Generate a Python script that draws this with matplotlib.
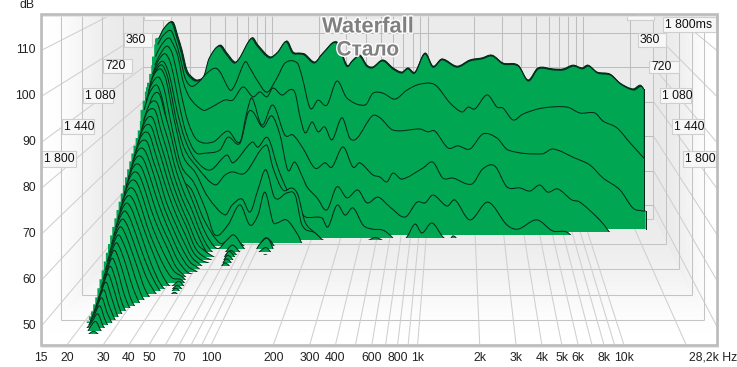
import matplotlib
matplotlib.use("Agg")
import matplotlib.pyplot as plt
import matplotlib.patheffects as pe
from matplotlib.path import Path
from matplotlib.patches import PathPatch, Polygon, Rectangle
import numpy as np

plt.rcParams["font.family"] = ["Liberation Sans", "DejaVu Sans"]

# ---- data: slices of the waterfall, Hz and dB ----
top_times = [0, 12, 24]
top_freq = [19.1, 20.6, 23.2, 25, 26.5, 28.5, 31.2, 33.6, 37.2, 40.1, 46.5, 51.5, 58, 62.5, 74.6, 81.5, 97.3, 109.5,
            125, 137, 152, 163, 189, 213, 262, 304, 332, 368, 408, 446, 517, 600, 685, 748, 830, 962, 1083, 1237,
            1545, 1870, 2235, 2590, 3050, 3805, 4410, 5115, 6380, 7400, 8580, 9795, 10710, 12230, 14820, 17190,
            20800, 23100, 24150]
top_db = [98.5, 101.4, 103.1, 98.8, 95, 89.2, 86.9, 86.3, 87.7, 92.7, 96.4, 94.1, 91.5, 92.7, 98.5, 96.4, 93, 94.4,
          97.6, 94.4, 94.1, 93.8, 91.5, 94.1, 97.3, 90.6, 92.1, 93.5, 90.6, 90.1, 92.1, 89.8, 88.6, 89.8, 88.6, 94.1,
          90.3, 92.4, 90.3, 92.1, 92.7, 93.5, 91.2, 90.6, 86.3, 89.8, 89.5, 89.5, 90.6, 89.8, 90.6, 88.6, 88, 85.4,
          83.7, 84.8, 84]

a_freq = [19.1, 20.6, 23.2, 25, 26.5, 28.5, 31.2, 34.5, 39.4, 44.3, 47.7, 55.2, 59.4, 68.8, 74, 82, 95, 110, 124, 148,
          159, 179, 201, 229, 265, 307, 401, 450, 521, 622, 741, 897, 1119, 1394, 1663, 1816, 2012, 2400, 2780, 3035,
          3517, 4065, 5370, 7770, 9400, 11700, 13150, 16180, 19590, 24150]
a_db = [97, 99.5, 101, 97.5, 93.5, 87.5, 85, 86, 88.8, 90.2, 89.1, 83.9, 85.4, 92, 90.2, 86.8, 83.3, 87.4, 91.7, 91.7,
        87.7, 78.7, 81, 79.6, 86.5, 81.6, 79.6, 83, 83, 81.3, 83.9, 85.6, 85.4, 80.2, 77.6, 79, 78.5, 82.5, 79, 78.7,
        75.3, 77, 78.7, 79, 77.3, 77.3, 75, 73, 68.7, 64.2]

b_freq = [19.1, 20.6, 23.2, 25, 26.5, 28.5, 31.5, 38.1, 42.2, 52.5, 59, 68.3, 79, 87.5, 96.9, 105.7, 120.6, 135.5, 146,
          157, 169, 187, 204, 225, 250, 289, 324, 360, 448, 503, 608, 900, 1012, 1120, 1355, 1566, 1866, 2256, 2768,
          3247, 5334, 6255, 8613, 10725, 12975, 16600, 20085, 23235, 24150]
b_db = [94, 97, 99.3, 97, 94, 87, 82.2, 78.7, 79.3, 81.6, 81.6, 85.3, 82.5, 83.9, 82.5, 85, 83, 84.5, 83.6, 76.7, 72.2,
        75.3, 72.5, 73.9, 70.2, 76.5, 70.7, 70.7, 77, 76.5, 73, 73.3, 72.5, 72.7, 67.9, 68.5, 67.6, 71.9, 70.7, 67.3,
        66.2, 67.6, 65, 63, 59.3, 55.9, 50.7, 49.9, 49.9]

c_freq = [19.5, 21, 23.2, 25, 26.5, 28.5, 31.5, 35.9, 45.2, 56.2, 66.8, 73.9, 79.5, 91.8, 107.7, 128, 144, 166, 198,
          229, 253, 297, 343, 379, 457, 506, 560, 611, 696, 942, 1089, 1258, 1455, 1914, 2244, 2670, 3180, 3838, 4437,
          5115, 5745, 6639, 8130, 9120, 12195, 13680, 15000]
c_db = [92, 95, 97.4, 95.5, 91, 84, 76, 70.8, 70.2, 73.3, 70.2, 78.7, 82.7, 75, 80.7, 72.2, 72.2, 68.5, 62.8, 64.3,
        63.1, 68.8, 63.1, 64.3, 60.9, 60.3, 58.9, 61.4, 59.7, 62.8, 64.5, 60, 60, 58.3, 62.6, 63.4, 57.5, 57.2, 56.3,
        58, 56, 56.9, 53.8, 53.2, 48.1, 45.3, 43]

d_freq = [19.5, 21, 23.2, 25, 26.5, 28.5, 31.5, 36, 41.4, 51.3, 57.5, 68.4, 76.7, 82.4, 95, 108, 121.5, 136, 150, 169,
          179, 207, 238, 275, 318, 372, 424, 497, 591, 733, 870, 977, 1096, 1338, 1500, 1860, 2410, 3165, 3705, 4860,
          6105, 7485, 8500]
d_db = [90, 93.5, 95.7, 93.5, 89, 81.5, 73.5, 68, 67.7, 68.6, 72.2, 70.5, 79, 79.3, 75, 78.2, 72.8, 62.9, 65.2, 60.7,
        58.2, 55.1, 51.7, 58.2, 55.1, 57.3, 53.7, 55.3, 52.5, 49.7, 53.9, 53.7, 55.9, 52.8, 54.5, 48.9, 53.9, 47.5,
        46.3, 48.9, 45.8, 45.5, 43]

e_freq = [19.5, 21, 23.2, 25, 26.5, 28.5, 32, 37, 45.6, 58, 63.3, 83, 90.4, 104, 120, 137, 165, 177, 225, 245, 279, 313,
          351, 405, 460, 537, 611, 650, 685, 757, 849, 937, 1081, 1265, 1380, 1462, 1570, 1700]
e_db = [88, 92, 94, 91.5, 87, 80, 72, 66.5, 63.6, 67.8, 65.6, 71.4, 70, 72.6, 64.2, 58, 52.4, 50.5, 50.2, 47.7, 53.8,
        51, 53, 48.2, 47.1, 46.8, 44.9, 43, 43, 44.9, 48.5, 46, 48.8, 44.9, 44, 45.2, 44, 42]

g_freq = [19.5, 21, 23.2, 25, 26.5, 28.5, 32, 38, 49.5, 57, 63, 75.9, 103, 113, 130, 148, 161, 178, 205, 227, 240]
g_db = [87, 91, 93.2, 90.5, 85.5, 78, 70, 65, 59.8, 62.5, 63.4, 63.1, 70.9, 64.5, 58.4, 58.9, 57, 49.5, 46.4, 44.4, 43]

h_freq = [19.5, 21, 23.2, 25, 26.5, 28.5, 32, 38, 45, 57.8, 63.8, 73.5, 82.5, 92, 103, 117, 139, 156, 172, 207, 232,
          294, 432, 484, 542, 580]
h_db = [86, 90.5, 92.3, 89.5, 84, 77, 68, 63.5, 57, 51.8, 54.5, 56.2, 52.6, 58.7, 64.3, 56.5, 57.9, 57.3, 49, 46.8,
        44.8, 43, 44.6, 45.5, 44.6, 43]

i_freq = [19.5, 21, 23.2, 25, 26.5, 28.5, 32, 38, 45, 51.3, 61.5, 72.9, 84, 94, 103.6, 116, 122.7, 141, 165, 174, 190]
i_db = [84, 88.5, 90.5, 87.5, 82, 75, 66, 61.5, 54, 47, 49.7, 55.3, 49.7, 52.5, 58.8, 50.6, 50.3, 51.1, 47, 44.8, 43]

j_freq = [19.5, 21, 23.2, 25, 26.5, 28.5, 32, 38, 45, 56, 64.7, 74.5, 85.6, 95.7, 105.7, 113, 123, 140]
j_db = [82, 86.5, 88.8, 85.5, 80, 73, 64, 60, 52, 45.6, 46.4, 45.6, 43.6, 44.5, 46.9, 46.4, 44.2, 43]

a_time, b_time, c_time, d_time, e_time, g_time, h_time, i_time, j_time = 40, 80, 120, 160, 200, 220, 240, 280, 320

low_freq = [20.5, 22, 23.5, 25, 27, 29, 32, 36, 40, 45, 50, 56, 63, 70, 80, 90, 100, 112, 125]
low_times = [360, 400, 440, 480, 520, 560, 600, 640, 680, 720, 760, 800, 840, 880, 920, 960, 1000, 1040, 1080, 1120,
             1160, 1200, 1240, 1280, 1320, 1360, 1400, 1440, 1480, 1520, 1560]
low_db = [
    [80, 85, 87.1, 86.5, 81, 76, 68, 62, 57, 51, 47, 44.8, 47, 48.5, 45, 43, 46, 47.5, 43],
    [80, 84, 85.4, 84.5, 79, 74.5, 67, 60.5, 56, 50, 46, 44, 44.5, 46.5, 44, 43, 44.5, 45.8, 43],
    [78, 82.5, 83.8, 83, 77.5, 73, 66, 59.5, 55, 49.5, 45.5, 43.5, 44, 45.8, 43.5, 43, 43, 44.7, 43],
    [76.5, 80.5, 82.2, 81.3, 76, 71.5, 65, 58.7, 54, 48.5, 46.5, 45, 44, 46.3, 43],
    [75, 79, 80.6, 79.8, 75, 70.5, 64, 58, 53.5, 48, 45.8, 44.8, 43.5, 46, 43],
    [73.5, 77.5, 79.1, 78.3, 73.5, 69, 63, 57, 52.5, 47.5, 45.5, 44.6, 43, 45.8, 43],
    [72, 76, 77.5, 76.8, 72, 68, 61.5, 56, 51.5, 47, 45.2, 43.5, 43, 45.5, 43],
    [70.5, 74.5, 76, 75, 71, 66.5, 60.5, 55, 50.5, 46.5, 45, 43],
    [69, 73, 74.5, 73.5, 69.5, 65, 59.5, 54, 49.5, 46, 44.8, 43],
    [67.5, 71.5, 73, 72, 68, 63.5, 58, 53, 48.5, 45.5, 44.5, 43],
    [66, 70, 71.5, 70.5, 66.5, 62, 57, 52, 47.5, 45, 43],
    [64.5, 68.5, 70, 69, 65, 60.5, 55.5, 50.5, 47, 45.4, 43],
    [63, 67, 68.6, 67.5, 63.5, 59, 54, 49, 46, 45.5, 43],
    [61.5, 65.5, 67.2, 66, 62, 58, 53, 47.5, 44.6, 45.8, 43],
    [60, 64, 65.9, 64.5, 60.5, 56.5, 51, 46, 44, 45.5, 43],
    [58.5, 62.5, 64.5, 63, 59, 55, 50, 45.5, 43.5, 45.5, 43],
    [57, 61, 63.1, 61.5, 57.5, 53.5, 48.5, 44.7, 43, 45.2, 43],
    [55.5, 59.5, 61.8, 60, 56, 52, 46.5, 43],
    [54, 58, 60.4, 58.5, 54.5, 50, 45, 43],
    [52.5, 56.5, 59.1, 57, 52.5, 48, 44, 43],
    [51, 55, 57.9, 55.5, 50.5, 46, 43],
    [49.5, 53.5, 56.6, 54, 48.5, 45, 43],
    [48, 52, 55.3, 52.5, 47, 44, 43],
    [47, 51, 54.1, 51, 46, 43],
    [46, 50, 52.8, 49.5, 45, 43],
    [45.5, 49, 51.6, 48, 44.5, 43],
    [45, 48, 50.4, 47, 44, 43],
    [44.5, 47, 49.2, 46, 43.5, 43],
    [44.5, 46.2, 48, 45.3, 43],
    [43, 45.5, 46.9, 44.8, 43],
    [43, 44.5, 45.3, 44.5, 43],
]

db_ticks = [50, 60, 70, 80, 90, 100, 110]
time_ticks = [0, 360, 720, 1080, 1440, 1800]
freq_lines = [20, 30, 40, 50, 60, 70, 80, 90, 100, 200, 300, 400, 500, 600, 700, 800, 900, 1000, 2000, 3000, 4000,
              5000, 6000, 7000, 8000, 9000, 10000, 20000]
freq_ticks = [15, 20, 30, 40, 50, 70, 100, 200, 300, 400, 600, 800, 1000, 2000, 3000, 4000, 5000, 6000, 8000, 10000,
              28200]
freq_labels = ["15", "20", "30", "40", "50", "70", "100", "200", "300", "400", "600", "800", "1k", "2k", "3k", "4k",
               "5k", "6k", "8k", "10k", "28,2k Hz"]

# ---- the 3d box in pixels ----
F_MIN, F_MAX = 15.0, 28200.0
DB_FLOOR = 46.0
DB_CUT = 44.7
GREEN = "#00a651"
INK = "#06281a"
GRID = "#cfcfcf"
TOOTH = 3.5


def box(t):
    r = np.asarray(t, dtype=float) / 1800.0
    return 143.5 - 102.5 * r, 510.0 + 166.0 * r, 219.0 + 126.0 * r, 3.45 + 1.15 * r


def project(f, t, db):
    x0, w, fl, s = box(t)
    x = x0 + w * np.log10(np.asarray(f, dtype=float) / F_MIN) / np.log10(F_MAX / F_MIN)
    y = fl - s * (np.asarray(db, dtype=float) - DB_FLOOR)
    return x, y


def curve(xs, ys):
    # smooth bezier through the points
    slope = np.zeros(len(xs))
    slope[1:-1] = (ys[2:] - ys[:-2]) / (xs[2:] - xs[:-2])
    slope[0] = (ys[1] - ys[0]) / (xs[1] - xs[0])
    slope[-1] = (ys[-1] - ys[-2]) / (xs[-1] - xs[-2])
    verts = [(xs[0], ys[0])]
    codes = [Path.MOVETO]
    for i in range(len(xs) - 1):
        dx = (xs[i + 1] - xs[i]) / 3.0
        verts += [(xs[i] + dx, ys[i] + slope[i] * dx), (xs[i + 1] - dx, ys[i + 1] - slope[i + 1] * dx),
                  (xs[i + 1], ys[i + 1])]
        codes += [Path.CURVE4] * 3
    return verts, codes


fig = plt.figure(figsize=(7.37, 3.67), dpi=100)
ax = fig.add_axes([0, 0, 1, 1])
ax.set_axis_off()

L, R, T, B = 41, 717, 14, 345
x_b, w_b, y_b, _ = box(0)
xb_r = x_b + w_b


def gradient(poly, vals, horizontal, extent):
    g = np.array(vals).reshape((1, -1) if horizontal else (-1, 1))
    im = ax.imshow(g, cmap="gray", vmin=0, vmax=1, extent=extent, aspect="auto", zorder=1, interpolation="bicubic")
    p = Polygon(poly, closed=True, transform=ax.transData, fc="none", ec="none")
    ax.add_patch(p)
    im.set_clip_path(p)


ax.add_patch(Rectangle((x_b, T), w_b, y_b - T, fc="#ebebeb", ec="none", zorder=1))
gradient([(L, T), (x_b, T), (x_b, y_b), (L, B)], [1.0, 0.94, 0.91], True, (L, x_b, B, T))
gradient([(xb_r, T), (R, T), (R, B), (xb_r, y_b)], [0.91, 0.94, 1.0], True, (xb_r, R, B, T))
gradient([(L, B), (R, B), (xb_r, y_b), (x_b, y_b)], [0.92, 0.955, 1.0], False, (L, R, B, y_b))

clip_frame = Rectangle((L, T), R - L, B - T, transform=ax.transData)


def grid(xs, ys, color=GRID, lw=0.75):
    ln, = ax.plot(xs, ys, color=color, lw=lw, zorder=2, solid_capstyle="butt")
    ln.set_clip_path(clip_frame)


for db in db_ticks:
    x_a, y_a = project(F_MIN, 1800, db)
    x_c, y_c = project(F_MIN, 0, db)
    x_d, y_d = project(F_MAX, 0, db)
    x_e, y_e = project(F_MAX, 1800, db)
    grid([x_a, x_c], [y_a, y_c])
    grid([x_c, x_d], [y_c, y_d], "#bdbdbd")
    grid([x_d, x_e], [y_d, y_e])

for t in time_ticks:
    x_a, y_a = project(F_MIN, t, DB_FLOOR)
    x_e, y_e = project(F_MAX, t, DB_FLOOR)
    grid([x_a, x_e], [y_a, y_a], "#c4c4c4")
    grid([x_a, x_a], [y_a, T], "#c4c4c4")
    grid([x_e, x_e], [y_e, T], "#c4c4c4")

for f in freq_lines:
    x_c, y_c = project(f, 0, DB_FLOOR)
    x_a, y_a = project(f, 1800, DB_FLOOR)
    grid([x_a, x_c], [y_a, y_c])
    grid([x_c, x_c], [y_c, T], "#bdbdbd")

# ---- waterfall, back to front ----
slices = [(t, top_freq, top_db) for t in top_times]
slices += [(a_time, a_freq, a_db), (b_time, b_freq, b_db), (c_time, c_freq, c_db), (d_time, d_freq, d_db),
           (e_time, e_freq, e_db), (g_time, g_freq, g_db), (h_time, h_freq, h_db), (i_time, i_freq, i_db),
           (j_time, j_freq, j_db)]
for t, row in zip(low_times, low_db):
    slices.append((t, low_freq[:len(row)], row))

z = 3.0
for t, freq, db in slices:
    xs, ys = project(freq, t, db)
    _, base = project(F_MIN, t, DB_CUT)
    verts, codes = curve(xs, ys)
    clip = Rectangle((0, 0), 737, base, transform=ax.transData)
    # the flat green step that sticks out on the left of every slice
    fill = PathPatch(Path(verts + [(xs[-1], 400), (xs[0] - TOOTH, 400), (xs[0] - TOOTH, ys[0]), (xs[0], ys[0])],
                          codes + [Path.LINETO] * 4),
                     fc=GREEN, ec="none", zorder=z)
    ax.add_patch(fill)
    fill.set_clip_path(clip)
    line = PathPatch(Path(verts, codes), fc="none", ec=INK, lw=0.72, zorder=z + 0.1)
    ax.add_patch(line)
    line.set_clip_path(clip)
    if freq[-1] >= 24000:
        ax.plot([xs[-1], xs[-1]], [ys[-1], base], color=INK, lw=0.72, zorder=z + 0.1)
    z += 0.2

# ---- frame ----
ax.add_patch(Rectangle((L + 1.5, T + 1.5), R - L, B - T, fc="none", ec="#e2e2e2", lw=1.2, zorder=20))
ax.add_patch(Rectangle((L, T), R - L, B - T, fc="none", ec="#bcbcbc", lw=1.9, zorder=21))

# ---- labels ----
TXT = "#222222"
for db in db_ticks:
    _, y = project(F_MIN, 1800, db)
    ax.text(36, y - 0.5, str(db), ha="right", va="center", fontsize=8.8, color=TXT)
ax.text(35, 5, "dB", ha="right", va="center", fontsize=8.8, color=TXT)
for f, lab in zip(freq_ticks, freq_labels):
    x, _ = project(f, 1800, DB_FLOOR)
    if lab.endswith("Hz"):
        ax.text(737, 358, lab, ha="right", va="center", fontsize=8.8, color=TXT)
    else:
        ax.text(x, 358, lab, ha="center", va="center", fontsize=8.8, color=TXT)

left_boxes = [(144, 171, 6, 20, "0"), (124, 152, 33, 47, "360"), (103, 132, 59, 73, "720"), (83, 113, 88, 103, "1 080"),
              (62, 94, 119, 134, "1 440"), (42, 76, 151, 167, "1 800")]
right_boxes = [(627, 654, 6, 20, "0"), (638, 666, 33, 47, "360"), (649, 679, 61, 73, "720"),
               (660, 691, 88, 103, "1 080"), (672, 704, 119, 134, "1 440"), (683, 716, 151, 167, "1 800"),
               (663, 716, 17, 32, "1 800ms")]
for x1, x2, y1, y2, lab in left_boxes + right_boxes:
    rect = Rectangle((x1, y1), x2 - x1, y2 - y1, fc="#f7f7f7", ec="#cfcfcf", lw=0.8, zorder=15)
    ax.add_patch(rect)
    rect.set_clip_path(clip_frame)
    tx = ax.text(x1 + 2, (y1 + y2) / 2 + 0.3, lab, ha="left", va="center", fontsize=8.8, color="#111111", zorder=16,
                 clip_on=True)
    tx.set_clip_path(clip_frame)

halo = [pe.withStroke(linewidth=2.0, foreground="white")]
ax.text(368, 27, "Waterfall", ha="center", va="center", fontsize=15.8, fontweight="bold", color="#808080", zorder=30,
        path_effects=halo)
ax.text(368, 50, "Стало", ha="center", va="center", fontsize=15, fontweight="bold", color="#808080", zorder=30,
        path_effects=halo)

ax.set_xlim(0, 737)
ax.set_ylim(367, 0)
fig.savefig("out.png", dpi=100, facecolor="white")
